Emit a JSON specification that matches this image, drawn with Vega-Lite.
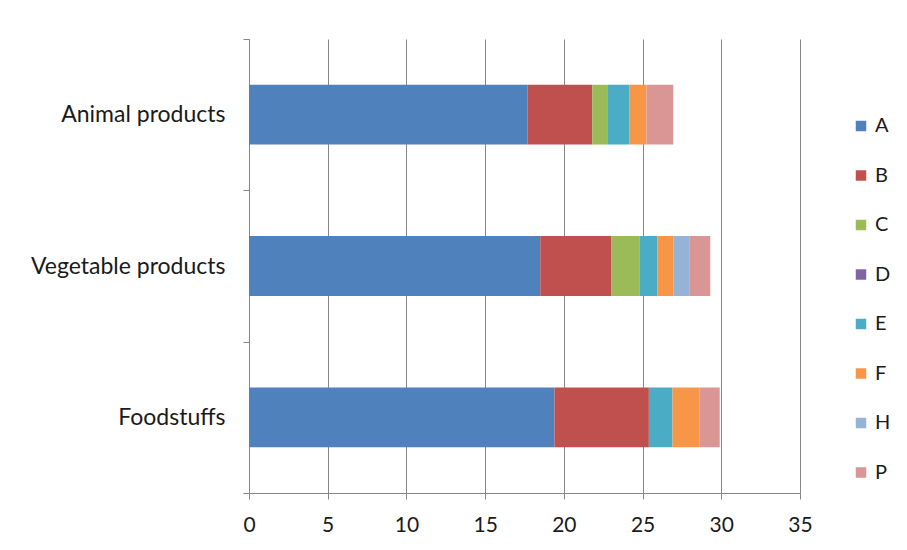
{
  "$schema": "https://vega.github.io/schema/vega-lite/v6.json",
  "width": 551,
  "height": 454,
  "autosize": {"type": "none"},
  "padding": {"left": 249, "top": 39, "right": 107, "bottom": 57},
  "background": "white",
  "config": {"view": {"stroke": null}, "font": "Lato"},
  "data": {
    "values": [
      {"category": "Animal products", "series": "A", "k": 1, "value": 17.7},
      {"category": "Animal products", "series": "B", "k": 2, "value": 4.1},
      {"category": "Animal products", "series": "C", "k": 3, "value": 1.0},
      {"category": "Animal products", "series": "D", "k": 4, "value": 0},
      {"category": "Animal products", "series": "E", "k": 5, "value": 1.35},
      {"category": "Animal products", "series": "F", "k": 6, "value": 1.1},
      {"category": "Animal products", "series": "H", "k": 7, "value": 0},
      {"category": "Animal products", "series": "P", "k": 8, "value": 1.7},
      {"category": "Vegetable products", "series": "A", "k": 1, "value": 18.5},
      {"category": "Vegetable products", "series": "B", "k": 2, "value": 4.5},
      {"category": "Vegetable products", "series": "C", "k": 3, "value": 1.8},
      {"category": "Vegetable products", "series": "D", "k": 4, "value": 0},
      {"category": "Vegetable products", "series": "E", "k": 5, "value": 1.15},
      {"category": "Vegetable products", "series": "F", "k": 6, "value": 1.0},
      {"category": "Vegetable products", "series": "H", "k": 7, "value": 1.05},
      {"category": "Vegetable products", "series": "P", "k": 8, "value": 1.3},
      {"category": "Foodstuffs", "series": "A", "k": 1, "value": 19.4},
      {"category": "Foodstuffs", "series": "B", "k": 2, "value": 6.0},
      {"category": "Foodstuffs", "series": "C", "k": 3, "value": 0},
      {"category": "Foodstuffs", "series": "D", "k": 4, "value": 0},
      {"category": "Foodstuffs", "series": "E", "k": 5, "value": 1.5},
      {"category": "Foodstuffs", "series": "F", "k": 6, "value": 1.7},
      {"category": "Foodstuffs", "series": "H", "k": 7, "value": 0},
      {"category": "Foodstuffs", "series": "P", "k": 8, "value": 1.3}
    ]
  },
  "mark": {"type": "bar", "height": {"band": 0.395}},
  "encoding": {
    "y": {
      "field": "category",
      "type": "nominal",
      "sort": ["Animal products", "Vegetable products", "Foodstuffs"],
      "scale": {"paddingInner": 0, "paddingOuter": 0},
      "axis": {
        "title": null,
        "tickBand": "extent",
        "tickSize": 6,
        "tickColor": "#868686",
        "domainColor": "#868686",
        "labelFontSize": 23,
        "labelColor": "#1a1a1a",
        "labelPadding": 18,
        "labelLimit": 240,
        "grid": false
      }
    },
    "x": {
      "field": "value",
      "type": "quantitative",
      "stack": "zero",
      "scale": {"domain": [0, 35], "nice": false},
      "axis": {
        "title": null,
        "values": [0, 5, 10, 15, 20, 25, 30, 35],
        "grid": true,
        "gridColor": "#868686",
        "gridOpacity": 1,
        "tickSize": 6,
        "tickColor": "#868686",
        "domainColor": "#868686",
        "labelFontSize": 21,
        "labelColor": "#1a1a1a",
        "labelPadding": 15,
        "labelFlush": false
      }
    },
    "color": {
      "field": "series",
      "type": "nominal",
      "scale": {
        "domain": ["A", "B", "C", "D", "E", "F", "H", "P"],
        "range": ["#4F81BD", "#C0504D", "#9BBB59", "#8064A2", "#4BACC6", "#F79646", "#95B3D7", "#D99694"]
      },
      "legend": {
        "title": null,
        "orient": "none",
        "legendX": 602,
        "legendY": 77,
        "symbolType": "square",
        "symbolSize": 110,
        "symbolStrokeWidth": 0,
        "labelFontSize": 20,
        "labelColor": "#1a1a1a",
        "labelOffset": 4,
        "rowPadding": 29.5
      }
    },
    "order": {"field": "k", "type": "quantitative"}
  }
}
